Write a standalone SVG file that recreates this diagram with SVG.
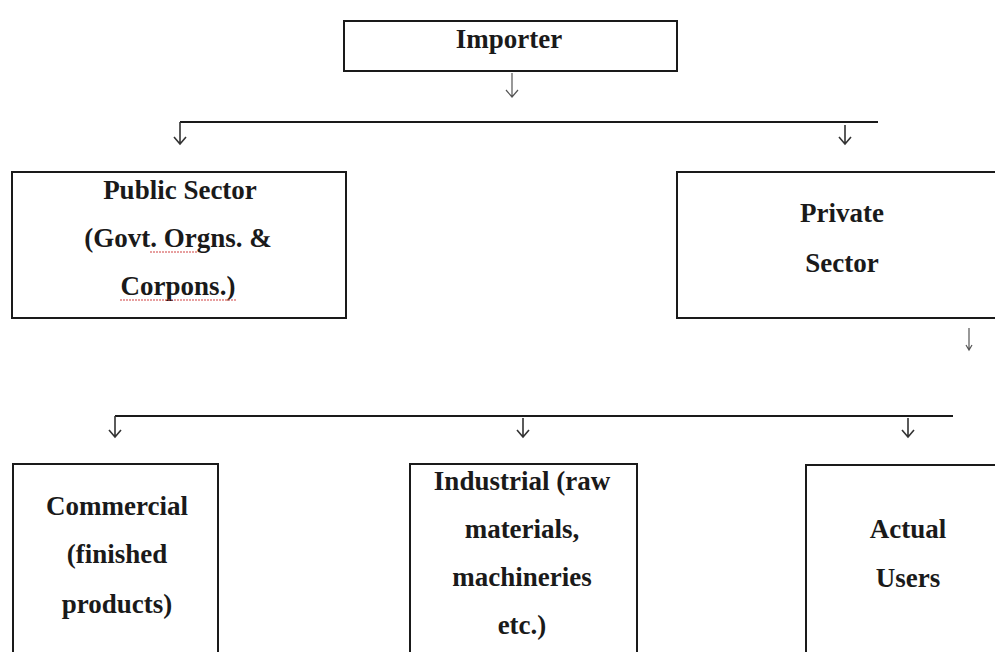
<svg xmlns="http://www.w3.org/2000/svg" width="995" height="652" viewBox="0 0 995 652">
<style>
.box{fill:#fff;stroke:#1a1a1a;stroke-width:2}
.t{font-family:"Liberation Serif","Times New Roman",serif;font-weight:bold;font-size:27px;fill:#1a1a1a;text-anchor:middle}
.ln{fill:none;stroke:#1a1a1a;stroke-width:2}
.ar{fill:none;stroke:#333;stroke-width:1.6}
.thin{fill:none;stroke:#555;stroke-width:1.2}
.sq{fill:none;stroke:#d04040;stroke-width:1;stroke-dasharray:2 1}
</style>
<rect width="995" height="652" fill="#fff"/>
<g id="connectors">
<path class="thin" d="M512 73 V97 M506 90 L512 97 L518 90"/>
<path class="ln" d="M180 122 H878"/>
<path class="ar" d="M180 122 V144 M174 137 L180 144 L186 137"/>
<path class="ar" d="M845 125 V144 M839 137 L845 144 L851 137"/>
<path class="thin" d="M969 328 V350 M966 345 L969 350 L972 345"/>
<path class="ln" d="M115 416 H953"/>
<path class="ar" d="M115 416 V437 M109 430 L115 437 L121 430"/>
<path class="ar" d="M523 418 V437 M517 430 L523 437 L529 430"/>
<path class="ar" d="M908 418 V437 M902 430 L908 437 L914 430"/>
</g>
<g id="importer">
<rect class="box" x="344" y="21" width="333" height="50"/>
<text class="t" x="509" y="48">Importer</text>
</g>
<g id="public">
<rect class="box" x="12" y="172" width="334" height="146"/>
<text class="t" x="180" y="199">Public Sector</text>
<text class="t" x="178" y="247">(Govt. Orgns. &amp;</text>
<text class="t" x="178" y="295">Corpons.)</text>
<path class="sq" d="M150 252 H198 M120 300 H236"/>
</g>
<g id="private">
<rect class="box" x="677" y="172" width="330" height="146"/>
<text class="t" x="842" y="222">Private</text>
<text class="t" x="842" y="272">Sector</text>
</g>
<g id="commercial">
<rect class="box" x="13" y="464" width="205" height="200"/>
<text class="t" x="117" y="515">Commercial</text>
<text class="t" x="117" y="563">(finished</text>
<text class="t" x="117" y="613">products)</text>
</g>
<g id="industrial">
<rect class="box" x="410" y="464" width="227" height="200"/>
<text class="t" x="522" y="490">Industrial (raw</text>
<text class="t" x="522" y="538">materials,</text>
<text class="t" x="522" y="586">machineries</text>
<text class="t" x="522" y="634">etc.)</text>
</g>
<g id="actual">
<rect class="box" x="806" y="465" width="200" height="200"/>
<text class="t" x="908" y="538">Actual</text>
<text class="t" x="908" y="587">Users</text>
</g>
</svg>
